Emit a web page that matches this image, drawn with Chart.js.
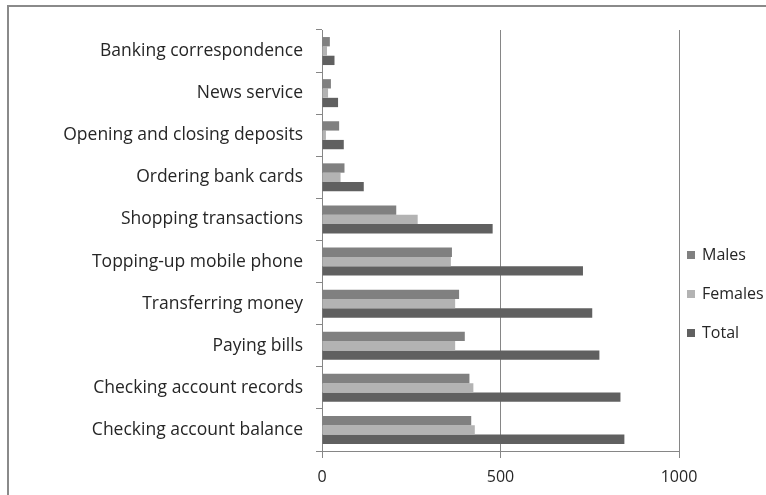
<!DOCTYPE html>
<html>
<head>
<meta charset="utf-8">
<script src="https://cdn.jsdelivr.net/npm/chart.js@4/dist/chart.umd.min.js"></script>
<style>
  html, body { margin: 0; padding: 0; background: #fff; }
  #wrap { position: relative; width: 766px; height: 495px; overflow: hidden; }
  #frame { position: absolute; left: 7px; top: 5px; width: 800px; height: 600px;
           border-left: 2px solid #8a8a8a; border-top: 2px solid #8a8a8a; }
  canvas { position: absolute; left: 0; top: 0; }
</style>
</head>
<body>
<div id="wrap">
  <div id="frame"></div>
  <canvas id="grafico" width="766" height="495"></canvas>
</div>
<script>
// categorias de arriba hacia abajo
const servicios = [
  'Banking correspondence',
  'News service',
  'Opening and closing deposits',
  'Ordering bank cards',
  'Shopping transactions',
  'Topping-up mobile phone',
  'Transferring money',
  'Paying bills',
  'Checking account records',
  'Checking account balance'
];
const hombres = [22, 25, 48, 63, 208, 364, 384, 400, 413, 418];
const mujeres = [14, 17, 11, 52, 268, 361, 373, 373, 424, 428];
const total   = [35, 45, 61, 117, 478, 731, 757, 777, 836, 847];
const ticksX  = [0, 500, 1000];

const fuente = "'Open Sans', Lato, sans-serif";

// leyenda dibujada a mano a la derecha, como en Excel
const leyenda = {
  id: 'leyenda',
  afterDraw(chart) {
    const ctx = chart.ctx;
    const ys = [255, 294, 333];
    ctx.save();
    ctx.font = '16px ' + fuente;
    ctx.textBaseline = 'middle';
    chart.data.datasets.forEach((ds, i) => {
      ctx.fillStyle = ds.backgroundColor;
      ctx.fillRect(687, ys[i] - 4, 8, 8);
      ctx.fillStyle = '#262626';
      ctx.fillText(ds.label, 702, ys[i]);
    });
    ctx.restore();
  }
};

new Chart(document.getElementById('grafico'), {
  type: 'bar',
  data: {
    labels: servicios,
    datasets: [
      { label: 'Males',   data: hombres, backgroundColor: '#808080' },
      { label: 'Females', data: mujeres, backgroundColor: '#b3b3b3' },
      { label: 'Total',   data: total,   backgroundColor: '#606060' }
    ]
  },
  options: {
    indexAxis: 'y',
    responsive: false,
    animation: false,
    devicePixelRatio: 1,
    layout: { padding: { left: 10, right: 87, top: 30, bottom: 0 } },
    datasets: { bar: { categoryPercentage: 0.665, barPercentage: 1.0 } },
    plugins: { legend: { display: false }, tooltip: { enabled: false } },
    scales: {
      x: {
        min: 0,
        max: 1000,
        afterBuildTicks: (s) => { s.ticks = ticksX.map(v => ({ value: v })); },
        afterFit: (s) => { s.height = 44; },
        grid: { color: '#868686', lineWidth: 1, drawTicks: true, tickLength: 7 },
        border: { display: true, color: '#868686' },
        ticks: {
          color: '#262626', padding: 10, font: { family: fuente, size: 16 },
          callback: (v) => String(v)
        }
      },
      y: {
        afterFit: (s) => { s.width = 312; },
        grid: { drawOnChartArea: false, drawTicks: true, tickLength: 6, color: '#868686', offset: true },
        border: { display: true, color: '#868686' },
        ticks: { color: '#262626', padding: 13, font: { family: fuente, size: 17.5 } }
      }
    }
  },
  plugins: [leyenda]
});
</script>
</body>
</html>
